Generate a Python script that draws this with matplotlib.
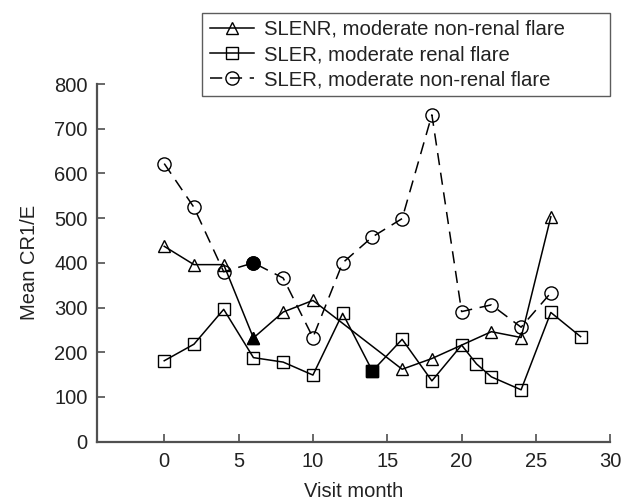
import matplotlib
matplotlib.use("Agg")
import matplotlib.pyplot as plt
from matplotlib.lines import Line2D

plt.rcParams['font.family'] = ['Liberation Sans', 'DejaVu Sans']

# Data
tri_x = [0, 2, 4, 6, 8, 10, 16, 18, 22, 24, 26]
tri_y = [437, 396, 396, 232, 290, 316, 162, 186, 246, 233, 503]
tri_filled = [6]

sq_x = [0, 2, 4, 6, 8, 10, 12, 14, 16, 18, 20, 21, 22, 24, 26, 28]
sq_y = [181, 218, 296, 188, 178, 149, 287, 158, 229, 136, 216, 174, 145, 116, 289, 235]
sq_filled = [14]

circ_x = [0, 2, 4, 6, 8, 10, 12, 14, 16, 18, 20, 22, 24, 26]
circ_y = [622, 524, 380, 400, 366, 233, 400, 458, 499, 731, 291, 306, 256, 333]
circ_filled = [6]

labels = ["SLENR, moderate non-renal flare",
          "SLER, moderate renal flare",
          "SLER, moderate non-renal flare"]

xticks = [0, 5, 10, 15, 20, 25, 30]
yticks = [0, 100, 200, 300, 400, 500, 600, 700, 800]

fig = plt.figure(figsize=(6.29, 5.03), dpi=100)
ax = fig.add_axes([0.1547, 0.1219, 0.8156, 0.7111])

txtc = '#222222'
lw = 1.1
ms = 9
mew = 1.0
dash = (0, (8, 5))

ax.plot(tri_x, tri_y, color='black', lw=lw, marker='^', ms=ms, mfc='none', mec='black', mew=mew)
ax.plot(sq_x, sq_y, color='black', lw=lw, marker='s', ms=ms, mfc='none', mec='black', mew=mew)
ax.plot(circ_x, circ_y, color='black', lw=lw, ls=dash, marker='o', ms=ms + 0.5, mfc='none', mec='black', mew=mew)

for xs, ys, fl, mk, m in [(tri_x, tri_y, tri_filled, '^', ms), (sq_x, sq_y, sq_filled, 's', ms), (circ_x, circ_y, circ_filled, 'o', ms + 0.5)]:
    fx = [x for x in xs if x in fl]
    fy = [y for x, y in zip(xs, ys) if x in fl]
    ax.plot(fx, fy, ls='none', marker=mk, ms=m, mfc='black', mec='black', mew=mew, zorder=3)

ax.set_xlim(-4.5, 30)
ax.set_ylim(0, 800)
ax.set_xticks(xticks)
ax.set_yticks(yticks)
for s in ['top', 'right']:
    ax.spines[s].set_visible(False)
for s in ['left', 'bottom']:
    ax.spines[s].set_color('#505050')
    ax.spines[s].set_linewidth(1.6)
ax.tick_params(direction='in', length=6, width=1.1, color='#404040', labelsize=14.5, labelcolor=txtc, pad=7)
ax.tick_params(axis='x', pad=7.5)

ax.set_xlabel("Visit month", fontsize=14.5, color=txtc, labelpad=8)
ax.set_ylabel("Mean CR1/E", fontsize=14.5, color=txtc, labelpad=11)

handles = [
    Line2D([], [], color='black', lw=lw, marker='^', ms=ms, mfc='none', mec='black', mew=mew),
    Line2D([], [], color='black', lw=lw, marker='s', ms=ms, mfc='none', mec='black', mew=mew),
    Line2D([], [], color='black', lw=lw, ls=dash, marker='o', ms=ms + 0.5, mfc='none', mec='black', mew=mew),
]
leg = fig.legend(handles, labels, loc='upper left', bbox_to_anchor=(0.3216, 0.8091, 0.6477, 0.1657),
                 mode='expand', borderaxespad=0, fontsize=14.6, frameon=True, fancybox=False,
                 edgecolor='#333333', handlelength=2.2, handletextpad=0.48, borderpad=0.36,
                 labelspacing=0.3)
leg.get_frame().set_linewidth(1.0)
for t in leg.get_texts():
    t.set_color(txtc)

fig.savefig("out.png", dpi=100)
